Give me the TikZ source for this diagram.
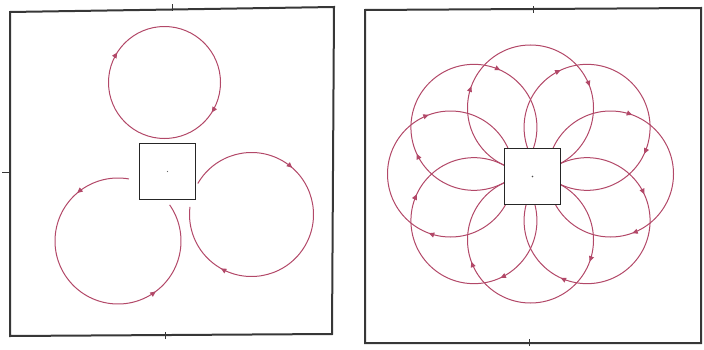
\documentclass[tikz,border=0pt]{standalone}
\usetikzlibrary{calc,arrows.meta,decorations.markings}
\definecolor{loopc}{RGB}{178,72,104}
\definecolor{framec}{RGB}{55,55,55}
\tikzset{
  loopline/.style={draw=loopc, line width=1.0pt},
  twoarrows/.style 2 args={postaction={decorate,decoration={markings,
     mark=at position #1 with {\arrow[loopc]{Triangle[length=5.5pt,width=5pt]}},
     mark=at position #2 with {\arrow[loopc]{Triangle[length=5.5pt,width=5pt]}}}}},
  frameline/.style={draw=framec, line width=2pt, line join=miter},
  centerbox/.style={draw=black!85, line width=1.4pt, fill=white, minimum size=56pt, inner sep=0pt},
  tick/.style={draw=framec, line width=0.8pt},
}
\begin{document}
\begin{tikzpicture}[x=1pt,y=1pt]
\useasboundingbox (0,0) rectangle (704,349);
% ---------- left panel ----------
\draw[frameline] (10,337) -- (334,342) -- (332,15) -- (10,13) -- cycle;
\draw[tick] (172,338) -- (172,345);
\draw[tick] (165,10) -- (165,17);
\draw[tick] (2,177) -- (9,177);
% loops
\draw[loopline, twoarrows={0.34}{0.84}] ($(164.5,266.5)+(90:56)$) arc[start angle=90, delta angle=-360, radius=56];
\draw[loopline, twoarrows={0.16}{0.72}] ($(118,108)+(80:63)$) arc[start angle=80, delta angle=315, radius=63];
\draw[loopline, twoarrows={0.30}{0.80}] ($(251.5,134.5)+(150:62)$) arc[start angle=150, delta angle=-337, radius=62];
\node[centerbox] (boxL) at (167.5,177.5) {};
\fill[black!60] (boxL.center) circle (0.7);
% ---------- right panel ----------
\draw[frameline] (365,339) -- (701,341) -- (701,6) -- (365,6) -- cycle;
\draw[tick] (533,336) -- (533,343);
\draw[tick] (529,3) -- (529,10);
\foreach \a in {0,45,...,315}{
  \draw[loopline, twoarrows={0.306}{0.694}]
    ($(530.5,175)+(\a:80 and 66)+(\a+180:63)$) arc[start angle=\a+180, delta angle=-360, radius=63];
}
\node[centerbox] (boxR) at (532.5,172.5) {};
\fill[black!70] (boxR.center) circle (0.9);
\end{tikzpicture}
\end{document}
